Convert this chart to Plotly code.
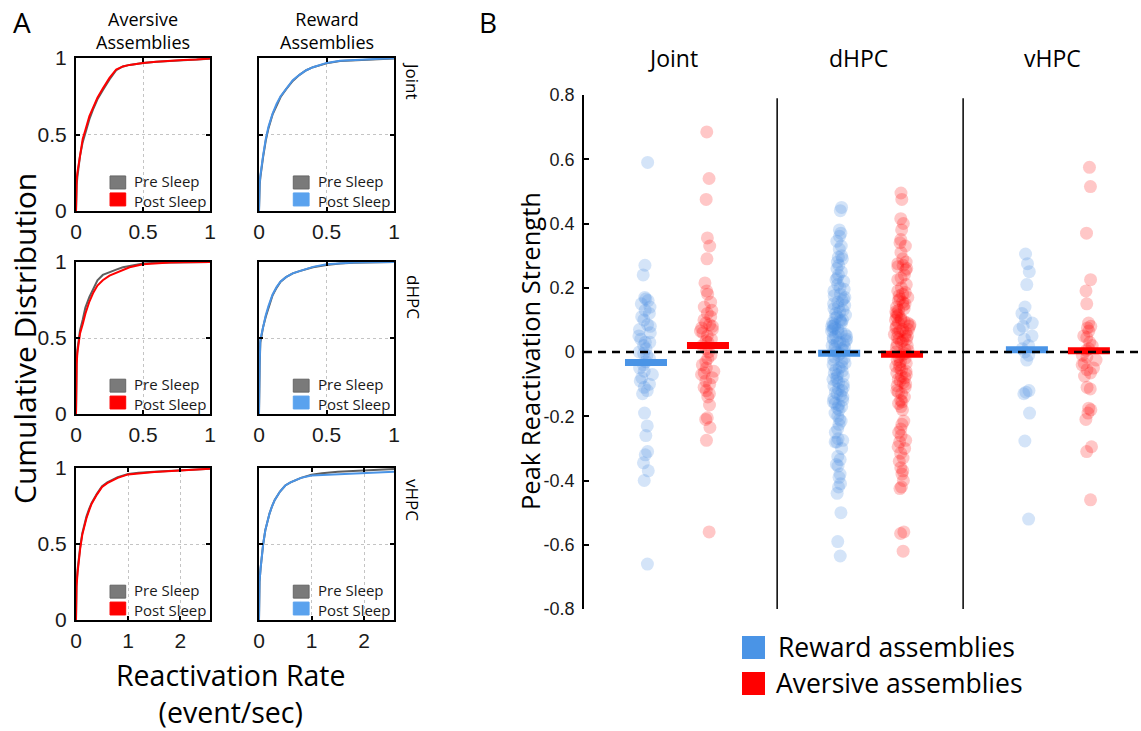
import plotly.graph_objects as go

# ---------------- Panel A data (cumulative distributions) ----------------
X_SHORT = [0, 0, 0.005, 0.01, 0.02, 0.03, 0.05, 0.07, 0.1, 0.13, 0.16, 0.2, 0.25, 0.3, 0.35, 0.4, 0.5, 0.6, 0.7, 0.8, 0.9, 1.0]
X_LONG = [0, 0, 0.01, 0.03, 0.05, 0.08, 0.12, 0.16, 0.2, 0.25, 0.3, 0.4, 0.5, 0.6, 0.7, 0.8, 1.0, 1.2, 1.5, 2.0, 2.3, 2.57]

AV_JOINT_PRE = [0, 0.10, 0.17, 0.22, 0.29, 0.36, 0.45, 0.51, 0.60, 0.67, 0.73, 0.79, 0.86, 0.92, 0.945, 0.955, 0.968, 0.975, 0.98, 0.985, 0.99, 0.995]
AV_JOINT_POST = [0, 0.12, 0.20, 0.25, 0.31, 0.38, 0.47, 0.53, 0.62, 0.68, 0.74, 0.80, 0.87, 0.925, 0.945, 0.955, 0.968, 0.975, 0.982, 0.987, 0.99, 0.997]
RW_JOINT_PRE = [0, 0.14, 0.17, 0.22, 0.29, 0.35, 0.46, 0.54, 0.63, 0.69, 0.745, 0.795, 0.85, 0.89, 0.92, 0.94, 0.965, 0.98, 0.985, 0.99, 0.993, 0.996]
RW_JOINT_POST = [0, 0.15, 0.18, 0.23, 0.30, 0.36, 0.47, 0.55, 0.635, 0.70, 0.75, 0.80, 0.855, 0.89, 0.92, 0.94, 0.968, 0.982, 0.988, 0.992, 0.995, 0.998]
AV_DHPC_PRE = [0, 0.27, 0.35, 0.42, 0.50, 0.55, 0.62, 0.70, 0.77, 0.83, 0.88, 0.915, 0.935, 0.95, 0.965, 0.975, 0.99, 0.995, 0.997, 0.998, 0.999, 1.0]
AV_DHPC_POST = [0, 0.26, 0.33, 0.40, 0.48, 0.53, 0.59, 0.66, 0.74, 0.80, 0.845, 0.88, 0.91, 0.93, 0.95, 0.965, 0.985, 0.992, 0.996, 0.998, 0.999, 1.0]
RW_DHPC_PRE = [0, 0.27, 0.32, 0.47, 0.52, 0.57, 0.64, 0.70, 0.78, 0.83, 0.87, 0.90, 0.925, 0.94, 0.955, 0.965, 0.98, 0.99, 0.995, 0.997, 0.999, 1.0]
RW_DHPC_POST = [0, 0.28, 0.34, 0.49, 0.53, 0.58, 0.65, 0.71, 0.785, 0.835, 0.872, 0.90, 0.925, 0.94, 0.955, 0.968, 0.985, 0.992, 0.996, 0.998, 0.999, 1.0]
AV_VHPC_PRE = [0, 0.17, 0.24, 0.33, 0.40, 0.48, 0.57, 0.63, 0.68, 0.73, 0.77, 0.83, 0.88, 0.905, 0.925, 0.94, 0.96, 0.968, 0.975, 0.985, 0.99, 0.995]
AV_VHPC_POST = [0, 0.16, 0.22, 0.31, 0.38, 0.47, 0.56, 0.62, 0.67, 0.72, 0.765, 0.825, 0.875, 0.90, 0.92, 0.935, 0.958, 0.966, 0.974, 0.984, 0.99, 0.995]
RW_VHPC_PRE = [0, 0.17, 0.25, 0.34, 0.41, 0.50, 0.59, 0.65, 0.70, 0.75, 0.79, 0.845, 0.885, 0.905, 0.92, 0.935, 0.955, 0.965, 0.975, 0.985, 0.99, 0.993]
RW_VHPC_POST = [0, 0.17, 0.25, 0.34, 0.41, 0.50, 0.59, 0.65, 0.70, 0.75, 0.79, 0.845, 0.885, 0.905, 0.92, 0.935, 0.95, 0.953, 0.956, 0.965, 0.97, 0.975]

ROW_NAMES = ["Joint", "dHPC", "vHPC"]
COL_NAMES = ["Aversive<br>Assemblies", "Reward<br>Assemblies"]
SLEEP_LABELS = "Pre Sleep<br>Post Sleep"
X_TITLE_A = "Reactivation Rate<br>(event/sec)"

# ---------------- Panel B data (peak reactivation strength) ----------------
GROUPS = ["Joint", "dHPC", "vHPC"]
JOINT_REWARD = [0.59, 0.27, 0.24, 0.17, 0.165, 0.16, 0.15, 0.14, 0.13, 0.12, 0.11, 0.10, 0.085, 0.08, 0.07,
                0.06, 0.05, 0.04, 0.03, 0.03, 0.02, 0.01, 0.0, -0.005, -0.01, -0.02, -0.03, -0.04, -0.05,
                -0.06, -0.07, -0.08, -0.09, -0.10, -0.11, -0.12, -0.13, -0.19, -0.23, -0.26, -0.31, -0.32,
                -0.345, -0.37, -0.40, -0.66]
JOINT_AVERSIVE = [0.685, 0.54, 0.475, 0.355, 0.33, 0.29, 0.215, 0.19, 0.18, 0.155, 0.14, 0.13, 0.12, 0.11,
                  0.10, 0.09, 0.085, 0.08, 0.075, 0.07, 0.065, 0.06, 0.05, 0.04, 0.035, 0.03, 0.02, 0.01,
                  0.0, -0.01, -0.02, -0.03, -0.04, -0.05, -0.06, -0.065, -0.07, -0.08, -0.09, -0.10, -0.11,
                  -0.12, -0.13, -0.14, -0.165, -0.205, -0.21, -0.235, -0.275, -0.56]
DHPC_REWARD = [0.45, 0.44, 0.38, 0.37, 0.36, 0.345, 0.33, 0.32, 0.30, 0.295, 0.29, 0.28, 0.27, 0.26, 0.25,
               0.24, 0.23, 0.225, 0.22, 0.21, 0.20, 0.195, 0.19, 0.18, 0.175, 0.17, 0.165, 0.16, 0.155,
               0.15, 0.145, 0.14, 0.135, 0.13, 0.125, 0.12, 0.115, 0.11, 0.105, 0.10, 0.10, 0.095, 0.09,
               0.09, 0.085, 0.08, 0.08, 0.075, 0.07, 0.07, 0.065, 0.06, 0.06, 0.055, 0.05, 0.05, 0.045,
               0.04, 0.04, 0.035, 0.03, 0.03, 0.025, 0.02, 0.02, 0.015, 0.01, 0.01, 0.005, 0.0,
               -0.005, -0.01, -0.015, -0.02, -0.025, -0.03, -0.035, -0.04, -0.045, -0.05, -0.055, -0.06,
               -0.065, -0.07, -0.075, -0.08, -0.085, -0.09, -0.095, -0.10, -0.105, -0.11, -0.115, -0.12,
               -0.125, -0.13, -0.135, -0.14, -0.145, -0.15, -0.155, -0.16, -0.165, -0.17, -0.175, -0.18,
               -0.19, -0.20, -0.21, -0.215, -0.225, -0.24, -0.25, -0.27, -0.275, -0.28, -0.28, -0.30,
               -0.325, -0.335, -0.35, -0.355, -0.38, -0.39, -0.41, -0.42, -0.44, -0.50, -0.59, -0.635]
DHPC_AVERSIVE = [0.495, 0.475, 0.415, 0.40, 0.38, 0.35, 0.34, 0.33, 0.31, 0.29, 0.28, 0.275, 0.27, 0.265,
                 0.26, 0.255, 0.24, 0.23, 0.225, 0.21, 0.20, 0.19, 0.185, 0.18, 0.175, 0.17, 0.165, 0.16,
                 0.155, 0.15, 0.145, 0.14, 0.135, 0.13, 0.125, 0.12, 0.115, 0.11, 0.105, 0.10, 0.10, 0.095,
                 0.09, 0.09, 0.085, 0.08, 0.08, 0.075, 0.07, 0.07, 0.065, 0.06, 0.06, 0.055, 0.05, 0.05,
                 0.045, 0.04, 0.04, 0.035, 0.03, 0.025, 0.02, 0.015, 0.01, 0.005, 0.0,
                 -0.005, -0.01, -0.015, -0.02, -0.025, -0.03, -0.035, -0.04, -0.045, -0.05, -0.055, -0.06,
                 -0.065, -0.07, -0.075, -0.08, -0.085, -0.09, -0.095, -0.10, -0.105, -0.11, -0.12, -0.125,
                 -0.13, -0.14, -0.15, -0.155, -0.16, -0.17, -0.18, -0.215, -0.225, -0.24, -0.25, -0.26,
                 -0.275, -0.28, -0.295, -0.30, -0.315, -0.33, -0.34, -0.36, -0.37, -0.38, -0.40, -0.42,
                 -0.425, -0.56, -0.565, -0.62]
VHPC_REWARD = [0.305, 0.275, 0.25, 0.21, 0.14, 0.12, 0.105, 0.09, 0.08, 0.07, 0.05, 0.04, 0.02, 0.01, 0.0,
               -0.01, -0.025, -0.12, -0.125, -0.13, -0.19, -0.277, -0.52]
VHPC_AVERSIVE = [0.575, 0.515, 0.37, 0.225, 0.19, 0.15, 0.09, 0.08, 0.075, 0.065, 0.05, 0.045, 0.03, 0.02,
                 0.01, 0.005, -0.01, -0.015, -0.025, -0.035, -0.04, -0.05, -0.055, -0.065, -0.075, -0.11,
                 -0.115, -0.175, -0.18, -0.19, -0.21, -0.295, -0.31, -0.46]
MEAN_REWARD = [-0.033, -0.004, 0.007]
MEAN_AVERSIVE = [0.02, -0.007, 0.004]
Y_TICKS_B = [0.8, 0.6, 0.4, 0.2, 0, -0.2, -0.4, -0.6, -0.8]
Y_TICKTEXT_B = ["0.8", "0.6", "0.4", "0.2", "0", "-0.2", "-0.4", "-0.6", "-0.8"]

# ---------------- styles / layout constants ----------------
W, H = 1141, 731
GRAY = "#5e5e5e"
RED = "#ff0000"
BLUE = "#4a94e6"
BLUE_LIGHT = "#5aa2ee"
TXT = "Open Sans, Noto Sans, sans-serif"
NUM = "Liberation Sans, Arial, sans-serif"

# category positions on panel B's horizontal axis
REWARD_POS = [0.69, 2.84, 4.93]
AVERSIVE_POS = [1.38, 3.54, 5.62]
SEP_X = [2.15, 4.22]

COL_PX = [(76, 210), (259, 394)]
ROW_PX = [(58, 211), (262, 414), (468, 620)]


def px_x(a, b):
    return [a / W, b / W]


def px_y(top, bottom):
    return [1 - bottom / H, 1 - top / H]


def axname(k):
    return ("x", "y") if k == 1 else (f"x{k}", f"y{k}")


fig = go.Figure()
layout = dict(
    template="none",
    width=W, height=H, margin=dict(l=0, r=0, t=0, b=0, pad=0, autoexpand=False),
    plot_bgcolor="white", paper_bgcolor="white", showlegend=False,
    font=dict(family=TXT, color="black"),
)
shapes = []
annotations = []

panels = [
    (AV_JOINT_PRE, AV_JOINT_POST, RED, X_SHORT),
    (RW_JOINT_PRE, RW_JOINT_POST, BLUE, X_SHORT),
    (AV_DHPC_PRE, AV_DHPC_POST, RED, X_SHORT),
    (RW_DHPC_PRE, RW_DHPC_POST, BLUE, X_SHORT),
    (AV_VHPC_PRE, AV_VHPC_POST, RED, X_LONG),
    (RW_VHPC_PRE, RW_VHPC_POST, BLUE, X_LONG),
]

for k, (pre, post, col, xs) in enumerate(panels, start=1):
    r, c = (k - 1) // 2, (k - 1) % 2
    xa, ya = axname(k)
    fig.add_trace(go.Scatter(x=xs, y=pre, mode="lines", line=dict(color=GRAY, width=2),
                             xaxis=xa, yaxis=ya))
    fig.add_trace(go.Scatter(x=xs, y=post, mode="lines", line=dict(color=col, width=2),
                             xaxis=xa, yaxis=ya))
    long_axis = xs is X_LONG
    xticks = [0, 1, 2] if long_axis else [0, 0.5, 1]
    xtext = ["0", "1", "2"] if long_axis else ["0", "0.5", "1"]
    xrange = [0, 2.57] if long_axis else [0, 1]
    common = dict(showline=True, linecolor="black", linewidth=2, mirror="ticks",
                  ticks="inside", ticklen=4, tickwidth=2, tickcolor="black", automargin=False,
                  showgrid=True, gridcolor="#c4c4c4", griddash="dot", gridwidth=1,
                  zeroline=False, tickfont=dict(family=NUM, size=21, color="#1a1a1a"))
    xkey = "xaxis" if k == 1 else f"xaxis{k}"
    ykey = "yaxis" if k == 1 else f"yaxis{k}"
    layout[xkey] = dict(common, domain=px_x(*COL_PX[c]), anchor=ya, range=xrange,
                        tickvals=xticks, ticktext=xtext, ticklabelstandoff=1)
    layout[ykey] = dict(common, domain=px_y(*ROW_PX[r]), anchor=xa, range=[0, 1],
                        tickvals=[0, 0.5, 1], ticktext=["0", "0.5", "1"],
                        showticklabels=(c == 0), ticklabelstandoff=3)
    # in-panel legend swatches
    swatch = RED if c == 0 else BLUE_LIGHT
    shapes.append(dict(type="rect", xref=f"{xa} domain", yref=f"{ya} domain",
                       x0=0.254, x1=0.371, y0=0.144, y1=0.229,
                       fillcolor="#7a7a7a", line=dict(color="#666666", width=1)))
    shapes.append(dict(type="rect", xref=f"{xa} domain", yref=f"{ya} domain",
                       x0=0.254, x1=0.371, y0=0.033, y1=0.118,
                       fillcolor=swatch, line=dict(color=swatch, width=1)))
    annotations.append(dict(text=SLEEP_LABELS, xref=f"{xa} domain", yref=f"{ya} domain",
                            x=0.42, y=0.131, xanchor="left", yanchor="middle", align="left",
                            showarrow=False,
                            font=dict(size=15, family=TXT, color="#1a1a1a")))

# ---------------- Panel B ----------------
reward_sets = [JOINT_REWARD, DHPC_REWARD, VHPC_REWARD]
aversive_sets = [JOINT_AVERSIVE, DHPC_AVERSIVE, VHPC_AVERSIVE]
for i in range(3):
    for vals, pos, colr in ((reward_sets[i], REWARD_POS[i], "rgba(74,144,226,0.24)"),
                            (aversive_sets[i], AVERSIVE_POS[i], "rgba(255,0,0,0.22)")):
        fig.add_trace(go.Box(y=vals, x0=pos, boxpoints="all", jitter=1, pointpos=0, width=0.18,
                             fillcolor="rgba(0,0,0,0)", line=dict(width=0, color="rgba(0,0,0,0)"),
                             whiskerwidth=0, marker=dict(size=13, color=colr, line=dict(width=0)),
                             xaxis="x7", yaxis="y7"))

fig.add_trace(go.Scatter(x=REWARD_POS + AVERSIVE_POS, y=MEAN_REWARD + MEAN_AVERSIVE, mode="markers",
                         marker=dict(symbol="line-ew", size=30,
                                     line=dict(width=7, color=[BLUE] * 3 + [RED] * 3)),
                         xaxis="x7", yaxis="y7"))

layout["xaxis7"] = dict(domain=px_x(584, 1141), anchor="y7", range=[0, 6.2], visible=False,
                        automargin=False)
layout["yaxis7"] = dict(domain=px_y(95, 609), anchor="x7", range=[-0.8, 0.8], automargin=False,
                        showline=True, linecolor="black", linewidth=1.5, ticks="inside",
                        ticklen=5, tickwidth=2, tickcolor="black", showgrid=False, zeroline=False,
                        tickvals=Y_TICKS_B, ticktext=Y_TICKTEXT_B, ticklabelstandoff=4,
                        tickfont=dict(family=NUM, size=18, color="#1a1a1a"))

shapes.append(dict(type="line", xref="x7", yref="y7", x0=0, x1=6.2, y0=0, y1=0,
                   line=dict(color="black", width=2.5, dash="8px,6px")))
for sx in SEP_X:
    shapes.append(dict(type="line", xref="x7", yref="y7", x0=sx, x1=sx, y0=-0.81, y1=0.79,
                       line=dict(color="black", width=1.5)))

# Panel B legend
shapes.append(dict(type="rect", xref="paper", yref="paper", x0=742 / W, x1=765 / W,
                   y0=1 - 659 / H, y1=1 - 636 / H, fillcolor=BLUE, line=dict(width=0)))
shapes.append(dict(type="rect", xref="paper", yref="paper", x0=742 / W, x1=765 / W,
                   y0=1 - 695 / H, y1=1 - 672 / H, fillcolor=RED, line=dict(width=0)))


def ann(text, x, y, size, angle=0, xanchor="center", family=TXT):
    annotations.append(dict(text=text, xref="paper", yref="paper", x=x / W, y=1 - y / H,
                            xanchor=xanchor, yanchor="middle", showarrow=False, textangle=angle,
                            font=dict(size=size, family=family, color="black")))


ann("Reward assemblies", 776, 647, 26.5, xanchor="left")
ann("Aversive assemblies", 774, 683, 26.5, xanchor="left")

# titles / labels
ann("A", 22, 22, 28)
ann("B", 488, 22, 28)
ann(COL_NAMES[0], 143, 31, 18)
ann(COL_NAMES[1], 327, 31, 18)
for name, yc in zip(ROW_NAMES, [81, 297, 500]):
    ann(name, 413, yc, 17, angle=90)
ann("Cumulative Distribution", 24, 339, 30, angle=-90)
ann(X_TITLE_A, 230, 693, 28.5)
for g, xc in zip(GROUPS, [673, 858, 1052]):
    ann(g, xc, 58, 23)
ann("Peak Reactivation Strength", 530, 351, 25.5, angle=-90)

layout["shapes"] = shapes
layout["annotations"] = annotations
fig.update_layout(**layout)
fig.write_html("out.html")
